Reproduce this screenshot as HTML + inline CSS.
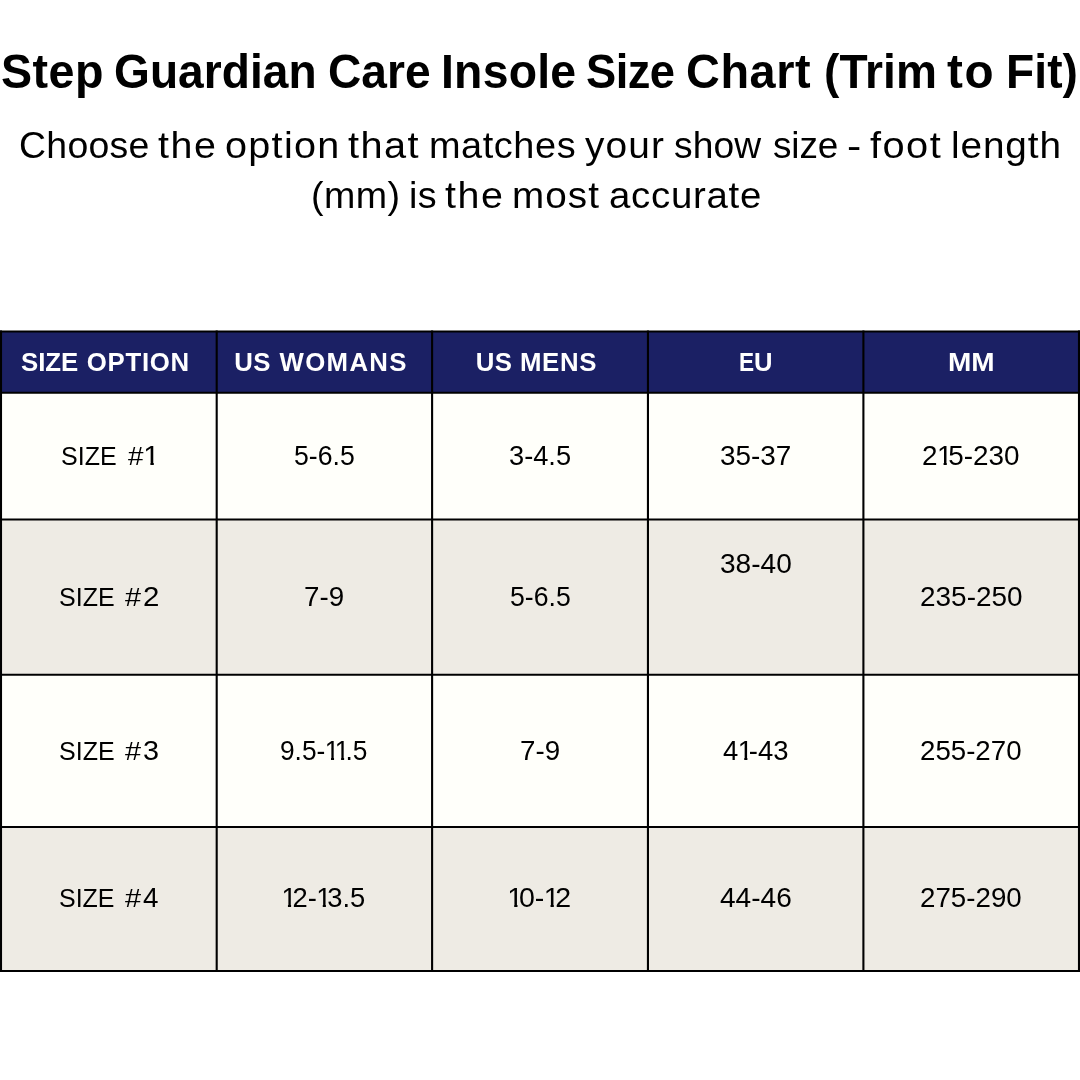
<!DOCTYPE html>
<html lang="en"><head><meta charset="utf-8"><title>Step Guardian Care Insole Size Chart</title>
<style>
html,body{margin:0;padding:0;background:#fff;}
body{width:1080px;height:1080px;position:relative;overflow:hidden;font-family:"Liberation Sans",sans-serif;color:#000;}
.w{position:absolute;white-space:pre;line-height:1;}
.bg{position:absolute;left:0;width:1080px;}
.grp{position:absolute;left:0;top:0;width:1080px;height:0;}
.ttl{font-size:46px;font-weight:bold;}
.sub{font-size:37px;}
.hd{font-size:25.8px;font-weight:bold;color:#fff;}
.bd{font-size:25.8px;}
.nm{font-size:26.5px;}

.o{display:inline-block;margin:0 -4px 0 -0.6px;clip-path:polygon(0 0,100% 0,100% 19.9px,9.4px 19.9px,9.4px 100%,6.35px 100%,6.35px 19.9px,0 19.9px);}
</style></head>
<body>
<div class="grp" id="title">
<span class="w ttl" style="left:0.58px;top:49.00px;letter-spacing:0.48px;transform:scale(1.014,1.053);transform-origin:0 39.0px;">Step </span>
<span class="w ttl" style="left:114.37px;top:49.00px;letter-spacing:0.04px;transform:scale(1.002,1.053);transform-origin:0 39.0px;">Guardian </span>
<span class="w ttl" style="left:327.67px;top:49.00px;letter-spacing:0.07px;transform:scale(1.002,1.053);transform-origin:0 39.0px;">Care </span>
<span class="w ttl" style="left:441.28px;top:49.00px;letter-spacing:0.23px;transform:scale(1.008,1.053);transform-origin:0 39.0px;">Insole </span>
<span class="w ttl" style="left:586.43px;top:49.00px;letter-spacing:-0.54px;transform:scale(0.984,1.053);transform-origin:0 39.0px;">Size </span>
<span class="w ttl" style="left:685.54px;top:49.00px;letter-spacing:0.56px;transform:scale(1.019,1.053);transform-origin:0 39.0px;">Chart </span>
<span class="w ttl" style="left:824.25px;top:49.00px;letter-spacing:0.05px;transform:scale(1.002,1.053);transform-origin:0 39.0px;">(Trim </span>
<span class="w ttl" style="left:947.41px;top:49.00px;letter-spacing:1.57px;transform:scale(1.035,1.053);transform-origin:0 39.0px;">to </span>
<span class="w ttl" style="left:1006.10px;top:49.00px;letter-spacing:0.07px;transform:scale(1.003,1.053);transform-origin:0 39.0px;">Fit)</span>
</div>
<div class="grp" id="subtitle">
<span class="w sub" style="left:18.77px;top:126.80px;letter-spacing:0.29px;transform:scale(1.011,1.000);transform-origin:0 31.0px;">Choose </span>
<span class="w sub" style="left:157.99px;top:126.80px;letter-spacing:1.49px;transform:scale(1.064,1.000);transform-origin:0 31.0px;">the </span>
<span class="w sub" style="left:224.99px;top:126.80px;letter-spacing:1.24px;transform:scale(1.068,1.000);transform-origin:0 31.0px;">option </span>
<span class="w sub" style="left:348.09px;top:126.80px;letter-spacing:1.36px;transform:scale(1.073,1.000);transform-origin:0 31.0px;">that </span>
<span class="w sub" style="left:428.54px;top:126.80px;letter-spacing:0.55px;transform:scale(1.024,1.000);transform-origin:0 31.0px;">matches </span>
<span class="w sub" style="left:584.98px;top:126.80px;letter-spacing:1.09px;transform:scale(1.049,1.000);transform-origin:0 31.0px;">your </span>
<span class="w sub" style="left:673.53px;top:126.80px;letter-spacing:0.11px;transform:scale(1.005,1.000);transform-origin:0 31.0px;">show </span>
<span class="w sub" style="left:772.54px;top:126.80px;letter-spacing:-0.08px;transform:scale(0.997,1.000);transform-origin:0 31.0px;">size </span>
<span class="w sub" style="left:846.50px;top:126.80px;transform:scale(1.155,1.000);transform-origin:0 31.0px;">- </span>
<span class="w sub" style="left:869.62px;top:126.80px;letter-spacing:1.4px;transform:scale(1.073,1.000);transform-origin:0 31.0px;">foot </span>
<span class="w sub" style="left:951.37px;top:126.80px;letter-spacing:0.85px;transform:scale(1.047,1.000);transform-origin:0 31.0px;">length</span>
<span class="w sub" style="left:310.82px;top:176.60px;letter-spacing:0.43px;transform:scale(1.017,1.000);transform-origin:0 31.0px;">(mm) </span>
<span class="w sub" style="left:408.77px;top:176.60px;letter-spacing:0.46px;transform:scale(1.020,1.000);transform-origin:0 31.0px;">is </span>
<span class="w sub" style="left:445.19px;top:176.60px;letter-spacing:1.49px;transform:scale(1.064,1.000);transform-origin:0 31.0px;">the </span>
<span class="w sub" style="left:511.99px;top:176.60px;letter-spacing:1.05px;transform:scale(1.044,1.000);transform-origin:0 31.0px;">most </span>
<span class="w sub" style="left:608.78px;top:176.60px;letter-spacing:0.71px;transform:scale(1.037,1.000);transform-origin:0 31.0px;">accurate</span>
</div>
<div class="bg" style="top:331.5px;height:61.3px;background:#1b2064;"></div>
<div class="bg" style="top:392.8px;height:126.7px;background:#fffffa;"></div>
<div class="bg" style="top:519.45px;height:155.3px;background:#eeebe4;"></div>
<div class="bg" style="top:674.8px;height:152.2px;background:#fffffa;"></div>
<div class="bg" style="top:826.95px;height:144.0px;background:#eeebe4;"></div>
<div class="grp" id="thead">
<span class="w hd" style="left:20.97px;top:350.00px;letter-spacing:-0.01px;transform:scale(1.000,1.028);transform-origin:0 21.0px;">SIZE </span>
<span class="w hd" style="left:86.84px;top:350.00px;letter-spacing:0.7px;transform:scale(1.000,1.028);transform-origin:0 21.0px;">OPTION</span>
<span class="w hd" style="left:234.15px;top:350.00px;letter-spacing:0.45px;transform:scale(1.000,1.028);transform-origin:0 21.0px;">US </span>
<span class="w hd" style="left:279.52px;top:350.00px;letter-spacing:1.33px;transform:scale(1.000,1.028);transform-origin:0 21.0px;">WOMANS</span>
<span class="w hd" style="left:475.65px;top:350.00px;letter-spacing:0.45px;transform:scale(1.000,1.028);transform-origin:0 21.0px;">US </span>
<span class="w hd" style="left:519.88px;top:350.00px;letter-spacing:0.7px;transform:scale(1.000,1.028);transform-origin:0 21.0px;">MENS</span>
<span class="w hd" style="left:738.59px;top:350.00px;transform:scale(0.877,1.028);transform-origin:0 21.0px;">E</span>
<span class="w hd" style="left:754.46px;top:350.00px;transform:scale(0.993,1.028);transform-origin:0 21.0px;">U</span>
<span class="w hd" style="left:947.73px;top:350.00px;transform:scale(1.085,1.028);transform-origin:0 21.0px;">MM</span>
</div>
<div class="grp" id="tbody">
<span class="w bd" style="left:61.46px;top:443.90px;transform:scale(0.970,1.030);transform-origin:0 21.0px;">SIZE </span>
<span class="w bd" style="left:127.66px;top:443.90px;transform:scale(1.079,1.030);transform-origin:0 21.0px;">#</span>
<span class="w nm" style="left:144.41px;top:442.90px;transform:scale(1.112,1.030);transform-origin:0 22.0px;"><span class="o">1</span></span>
<span class="w nm" style="left:293.61px;top:442.90px;transform:scale(1.006,1.030);transform-origin:0 22.0px;">5-6.5</span>
<span class="w nm" style="left:508.64px;top:442.90px;transform:scale(1.028,1.030);transform-origin:0 22.0px;">3-4.5</span>
<span class="w nm" style="left:720.20px;top:442.90px;transform:scale(1.053,1.030);transform-origin:0 22.0px;">35-37</span>
<span class="w nm" style="left:921.98px;top:442.90px;transform:scale(1.052,1.030);transform-origin:0 22.0px;">2<span class="o">1</span>5-230</span>
<span class="w bd" style="left:59.26px;top:584.90px;transform:scale(0.970,1.030);transform-origin:0 21.0px;">SIZE </span>
<span class="w bd" style="left:124.75px;top:584.90px;transform:scale(1.121,1.030);transform-origin:0 21.0px;">#</span>
<span class="w nm" style="left:142.50px;top:583.90px;transform:scale(1.112,1.030);transform-origin:0 22.0px;">2</span>
<span class="w nm" style="left:303.96px;top:583.90px;transform:scale(1.046,1.030);transform-origin:0 22.0px;">7-9</span>
<span class="w nm" style="left:509.51px;top:583.90px;transform:scale(1.006,1.030);transform-origin:0 22.0px;">5-6.5</span>
<span class="w nm" style="left:719.50px;top:551.10px;transform:scale(1.060,1.030);transform-origin:0 22.0px;">38-40</span>
<span class="w nm" style="left:919.58px;top:583.90px;transform:scale(1.055,1.030);transform-origin:0 22.0px;">235-250</span>
<span class="w bd" style="left:59.16px;top:739.00px;transform:scale(0.970,1.030);transform-origin:0 21.0px;">SIZE </span>
<span class="w bd" style="left:124.75px;top:739.00px;transform:scale(1.121,1.030);transform-origin:0 21.0px;">#</span>
<span class="w nm" style="left:142.76px;top:738.00px;transform:scale(1.087,1.030);transform-origin:0 22.0px;">3</span>
<span class="w nm" style="left:280.27px;top:738.00px;transform:scale(0.992,1.030);transform-origin:0 22.0px;">9.5-<span class="o">1</span><span class="o">1</span>.5</span>
<span class="w nm" style="left:519.96px;top:738.00px;transform:scale(1.046,1.030);transform-origin:0 22.0px;">7-9</span>
<span class="w nm" style="left:722.76px;top:738.00px;transform:scale(1.036,1.030);transform-origin:0 22.0px;">4<span class="o">1</span>-43</span>
<span class="w nm" style="left:920.00px;top:738.00px;transform:scale(1.044,1.030);transform-origin:0 22.0px;">255-270</span>
<span class="w bd" style="left:59.26px;top:886.00px;transform:scale(0.968,1.030);transform-origin:0 21.0px;">SIZE </span>
<span class="w bd" style="left:124.75px;top:886.00px;transform:scale(1.121,1.030);transform-origin:0 21.0px;">#</span>
<span class="w nm" style="left:143.15px;top:885.00px;transform:scale(1.049,1.030);transform-origin:0 22.0px;">4</span>
<span class="w nm" style="left:281.87px;top:885.00px;transform:scale(1.032,1.030);transform-origin:0 22.0px;"><span class="o">1</span>2-<span class="o">1</span>3.5</span>
<span class="w nm" style="left:507.78px;top:885.00px;transform:scale(1.077,1.030);transform-origin:0 22.0px;"><span class="o">1</span>0-<span class="o">1</span>2</span>
<span class="w nm" style="left:719.95px;top:885.00px;transform:scale(1.060,1.030);transform-origin:0 22.0px;">44-46</span>
<span class="w nm" style="left:919.99px;top:885.00px;transform:scale(1.046,1.030);transform-origin:0 22.0px;">275-290</span>
</div>
<svg class="grid" width="1080" height="1080" viewBox="0 0 1080 1080" style="position:absolute;left:0;top:0;" fill="none" stroke="#000" stroke-width="2.1"><line x1="0" y1="331.5" x2="1080" y2="331.5"/><line x1="0" y1="392.8" x2="1080" y2="392.8"/><line x1="0" y1="519.45" x2="1080" y2="519.45"/><line x1="0" y1="674.8" x2="1080" y2="674.8"/><line x1="0" y1="826.95" x2="1080" y2="826.95"/><line x1="0" y1="971.0" x2="1080" y2="971.0"/><line x1="1.0" y1="330.45" x2="1.0" y2="972.05"/><line x1="216.7" y1="330.45" x2="216.7" y2="972.05"/><line x1="432.1" y1="330.45" x2="432.1" y2="972.05"/><line x1="647.95" y1="330.45" x2="647.95" y2="972.05"/><line x1="863.4" y1="330.45" x2="863.4" y2="972.05"/><line x1="1079.0" y1="330.45" x2="1079.0" y2="972.05"/></svg>
</body></html>
